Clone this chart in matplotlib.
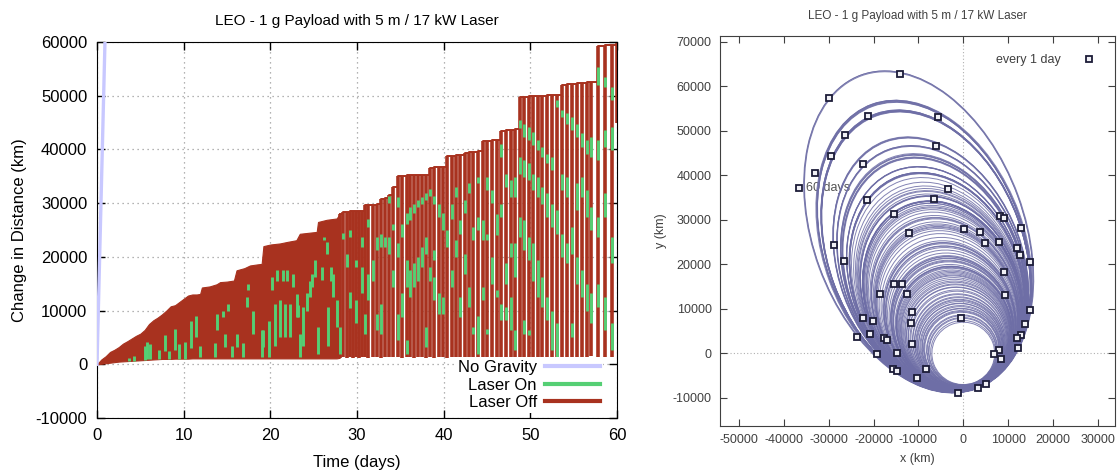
import numpy as np
import matplotlib.pyplot as plt
from matplotlib.patches import Ellipse
from matplotlib.lines import Line2D

plt.rcParams['font.family'] = ['Liberation Sans', 'DejaVu Sans']
plt.rcParams['axes.unicode_minus'] = False

TITLE = "LEO - 1 g Payload with 5 m / 17 kW Laser"

# ---- distance history ----
# early orbits are too close together to separate: keep their envelope
band_days = [0, 0.5, 1.0, 1.5, 2.0, 2.5, 3.0, 3.5, 4.0, 4.5, 5.0, 5.5, 6.0, 6.5,
             7.0, 7.5, 8.0, 8.5, 9.0, 9.5, 10.0, 10.5, 11.0, 11.5, 11.9, 12.1,
             13.0, 13.8, 14.2, 15.0, 15.8, 16.1, 17.0, 17.65, 18.5, 19.0, 19.2,
             20.0, 21.1, 22.0, 23.0, 23.4, 24.5, 25.35, 25.5, 26.5, 27.65, 28.0]
band_top = [0, 900, 1500, 2300, 2700, 3200, 3850, 4300, 4800, 5300, 5700, 6400,
            7500, 8200, 8700, 9300, 10000, 10800, 11000, 11600, 12200, 12800,
            13000, 13000, 13100, 14300, 14500, 14900, 15300, 15400, 15600, 17500,
            17900, 18400, 18600, 18700, 22000, 22300, 22500, 22800, 23100, 24300,
            24500, 24650, 26500, 26900, 27150, 28000]
band_low = [0, 100, 200, 300, 400, 500, 550, 600, 650, 700, 750, 800, 850, 900,
            950, 1000, 1000, 1000, 1050, 1050, 1050, 1050, 1100, 1100, 1100, 1100,
            1100, 1100, 1100, 1100, 1100, 1100, 1100, 1100, 1100, 1100, 1100, 1100,
            1100, 1100, 1100, 1100, 1100, 1100, 1100, 1100, 1100, 1200]

# later orbits, one dip per orbit
orbit_days = [28.0, 28.4, 28.8, 29.15, 29.5, 29.9, 30.2, 30.54, 30.92, 31.31,
              31.81, 32.27, 32.73, 33.23, 33.73, 34.2, 34.7, 35.23, 35.73, 36.12,
              36.57, 37.07, 37.54, 37.96, 38.42, 38.88, 39.46, 39.88, 40.42, 40.92,
              41.38, 41.88, 42.46, 42.96, 43.42, 44.0, 44.5, 45.05, 45.54, 46.12,
              46.61, 47.19, 47.73, 48.23, 48.81, 49.31, 49.88, 50.34, 50.85, 51.39,
              51.96, 52.54, 53.04, 53.62, 54.19, 54.77, 55.35, 55.92, 56.5, 57.0,
              57.84, 58.61, 59.39, 60.0]
orbit_top = [28000, 28400, 28400, 28500, 28500, 28500, 28500, 28600, 29600, 29700,
             29700, 29800, 30800, 31000, 31500, 33000, 35000, 35100, 35200, 35200,
             35200, 35300, 35300, 35300, 36600, 36700, 36700, 36700, 38700, 38800,
             38900, 39000, 39400, 39500, 39600, 39800, 41500, 41600, 41700, 41700,
             43500, 43600, 43700, 43800, 49700, 49800, 49900, 49900, 50000, 50000,
             50100, 50200, 50200, 52000, 52100, 52200, 52300, 52400, 52500, 52500,
             59300, 59500, 59500, 60000]
# the last sample is still on its way down when the run ends
orbit_low = [1200, 1300, 1200, 1300, 1200, 1300, 1200, 1300, 1300, 1200,
             1300, 1300, 1200, 1300, 1300, 1300, 1300, 1200, 1300, 1300,
             1200, 1300, 1300, 1200, 1300, 1200, 1300, 1300, 1200, 1300,
             1300, 1200, 1300, 1300, 1400, 1300, 1300, 1400, 1300, 1300,
             1300, 1400, 1300, 1300, 1400, 1300, 1300, 1400, 1300, 1300,
             1400, 1300, 1300, 1400, 1300, 1300, 1400, 1300, 1300, 1500,
             1300, 1400, 1300, 45000]

# stretches flown with the laser on: (day, from km, to km)
laser_on = [
    (3.7, 600, 1200), (4.3, 700, 1500), (5.5, 800, 3500), (5.8, 900, 4200),
    (6.1, 1000, 3800), (7.2, 1000, 2600), (7.8, 2500, 5500), (8.3, 1000, 2400),
    (9.0, 2700, 6600), (9.5, 1000, 3700), (10.2, 1000, 4200), (10.8, 3000, 8000),
    (11.4, 5000, 9000), (11.9, 1400, 3500), (13.6, 1400, 3900), (13.8, 6300, 9400),
    (14.58, 8800, 10000), (14.77, 3200, 5700), (15.15, 10000, 11300),
    (15.54, 1400, 3500), (16.12, 3200, 5700), (16.9, 1400, 4000),
    (17.27, 10700, 12500), (17.46, 13800, 15000), (18.04, 5700, 10000),
    (19.0, 1400, 6300), (19.19, 3200, 6300), (19.9, 1400, 8000),
    (20.15, 13800, 16300), (20.53, 3500, 11300), (20.8, 15600, 17500),
    (21.11, 5100, 11900), (21.42, 15600, 17500), (21.69, 5100, 11300),
    (21.96, 15600, 17500), (22.27, 5100, 11300), (22.65, 14400, 16900),
    (23.04, 8800, 13000), (23.23, 8800, 11000), (23.42, 1400, 5700),
    (23.81, 3500, 10700), (24.19, 10000, 13200), (24.57, 12500, 15600),
    (24.77, 14400, 16900), (25.15, 16300, 19400), (25.54, 2000, 7000),
    (25.92, 15700, 18100), (26.19, 23100, 23700), (26.5, 20600, 22800),
    (26.69, 3500, 10700), (26.96, 15600, 18100), (27.27, 12500, 16900),
    (27.65, 7000, 11900), (28.0, 2000, 7000), (28.4, 23400, 24500),
    (28.8, 18100, 20600), (29.15, 10400, 13500), (29.15, 23700, 25000),
    (29.9, 18100, 19400), (29.9, 7600, 11900), (30.54, 13200, 18100),
    (30.54, 21900, 23700), (30.92, 5700, 9400), (31.31, 11900, 16900),
    (31.31, 25600, 27100), (31.81, 15600, 19400), (32.27, 21300, 23700),
    (32.27, 6300, 9400), (32.73, 21900, 24300), (32.73, 5700, 11300),
    (33.23, 21900, 23700), (33.73, 30000, 31300), (33.73, 20600, 23700),
    (34.2, 25000, 26200), (34.2, 14400, 17500), (34.7, 29300, 31200),
    (34.7, 4500, 9400), (34.7, 20000, 22500), (35.23, 23700, 26200),
    (35.23, 8800, 13200), (35.73, 26200, 28100), (35.73, 14400, 19400),
    (35.73, 2000, 4500), (36.12, 26800, 29300), (36.12, 12500, 17500),
    (36.57, 28100, 29900), (36.57, 14400, 18800), (37.07, 29300, 30500),
    (37.07, 15600, 20000), (37.54, 29900, 31200), (37.54, 18100, 21900),
    (37.96, 30500, 31800), (37.96, 20600, 23700), (37.96, 3200, 6900),
    (38.42, 15600, 18100), (38.42, 31300, 32600), (38.88, 29900, 31400),
    (38.88, 19400, 21200), (38.88, 11900, 16300), (39.46, 27500, 29900),
    (39.46, 9400, 13200), (39.88, 25000, 28100), (39.88, 9400, 12500),
    (40.42, 21900, 25000), (40.92, 27100, 29900), (40.92, 14400, 17500),
    (41.38, 31200, 33000), (41.38, 20000, 23100), (41.88, 24300, 26800),
    (41.88, 8800, 12500), (42.46, 28100, 30500), (42.46, 16900, 20600),
    (42.96, 31800, 33700), (42.96, 10700, 14400), (43.42, 23100, 25600),
    (43.42, 5700, 6900), (44.0, 33700, 34900), (44.0, 25000, 27500),
    (44.0, 2000, 9000), (44.5, 23100, 26800), (44.5, 11900, 14400),
    (45.05, 32400, 34900), (45.05, 23100, 24300), (45.05, 5700, 6600),
    (45.54, 30000, 32400), (45.54, 15000, 20000), (46.12, 24000, 28000),
    (46.12, 12500, 13800), (46.61, 38600, 41100), (46.61, 27400, 29900),
    (46.61, 8200, 11300), (47.19, 33000, 35500), (47.19, 15000, 18800),
    (47.19, 8200, 10700), (47.73, 31200, 34300), (47.73, 20000, 22500),
    (47.73, 6300, 12500), (48.23, 31200, 34900), (48.23, 16300, 22500),
    (48.23, 2600, 6300), (48.81, 43900, 45500), (48.81, 35500, 38600),
    (48.81, 23700, 27400), (49.31, 42400, 44800), (49.31, 34900, 38000),
    (49.31, 21200, 26800), (49.31, 5700, 8200), (49.88, 41700, 44200),
    (49.88, 34300, 37400), (49.88, 19400, 23700), (49.88, 5400, 6300),
    (50.34, 40800, 43300), (50.34, 32400, 35500), (50.34, 15600, 22500),
    (50.85, 39900, 41700), (50.85, 31200, 34900), (50.85, 12500, 19400),
    (51.39, 38600, 40500), (51.39, 29900, 33000), (51.39, 10700, 16300),
    (51.96, 37400, 39200), (51.96, 27400, 31800), (51.96, 8200, 12500),
    (52.54, 36100, 38600), (52.54, 25600, 29900), (52.54, 2600, 10000),
    (53.04, 47900, 49200), (53.04, 24300, 28700), (53.04, 1400, 7600),
    (53.62, 46100, 47300), (53.62, 32400, 35500), (53.62, 20000, 24300),
    (54.19, 44800, 46700), (54.19, 31200, 34900), (54.19, 18800, 22500),
    (54.77, 43600, 46100), (54.77, 20600, 25600), (54.77, 5100, 7600),
    (55.35, 42400, 44800), (55.35, 28700, 33700), (55.35, 15000, 20000),
    (55.92, 40500, 43000), (55.92, 31200, 34900), (55.92, 12500, 17500),
    (56.5, 39200, 41700), (56.5, 27400, 32400), (56.5, 10000, 15000),
    (57.0, 38600, 42400), (57.0, 25000, 29300), (57.0, 7600, 13200),
    (57.84, 52000, 55400), (57.84, 38000, 41700), (57.84, 23700, 27400),
    (57.84, 10700, 15000), (58.61, 51700, 53500), (58.61, 40500, 43600),
    (58.61, 27400, 31800), (58.61, 6300, 12500), (59.39, 49200, 51700),
    (59.39, 39900, 44200), (59.39, 18800, 23700), (59.39, 2600, 7600),
]

no_gravity_days = [0, 0.92]
no_gravity_dist = [0, 60000]

# ---- trajectory ----
R_START = 7000    # starting orbit radius (km)
APSE_DEG = 110    # direction of apogee, degrees from +x

# extra early orbits (apogee rise / perigee rise, km) that the envelope hides
early_apogee = [400, 1100, 1700, 2500, 3100, 3600, 4400, 5100, 5900, 6600, 7200,
                8100, 8900, 9600, 10400, 11300, 11900, 12600, 13500, 14100,
                15000, 16200, 16900, 17800, 19100, 19900, 20800, 21500, 23600,
                25100, 25900, 27500, 30200, 32100, 34100]
early_perigee = [50, 150, 250, 350, 400, 450, 550, 600, 700, 750, 800,
                 850, 900, 950, 1000, 1000, 1050, 1050, 1050, 1100,
                 1100, 1100, 1100, 1100, 1100, 1100, 1100, 1100, 1100,
                 1100, 1100, 1200, 1200, 1300, 1300]

daily_x = [-14120, -29940, -21250, -5720, -26370, -29570, -22440, -6170, -33140,
           -36550, -3490, -21550, -6610, -15450, -12110, 220, 3790, 4830, 8100,
           9140, 12780, 7880, 11890, 12700, 14780, 9060, 9290, 14780, 13740,
           12850, 11960, 12260, 8020, 6910, 8400, -520, -11520, -11590, -11440,
           -14710, -19320, -28830, -26520, -15380, -13670, -18570, -12630,
           -22440, -20210, -23770, -20880, -17610, -17090, -15600, -14780,
           -8250, -10330, -1260, 3190, 4980]
daily_y = [62720, 57260, 53220, 53070, 49030, 44310, 42590, 46480, 40570, 37200,
           36900, 34360, 34660, 31290, 26950, 27920, 27250, 24700, 30840, 30460,
           28140, 24930, 23580, 22080, 20510, 18340, 13100, 9730, 6660, 4190,
           3440, 1270, 750, -70, -1270, 8010, 9360, 6810, 2100, 150, -70, 24330,
           20660, 15570, 15570, 13250, 13250, 8010, 7340, 3740, 4340, 3440, 2920,
           -3520, -3970, -3590, -5460, -8830, -7780, -6960]
last_day_x, last_day_y = -36550, 37200

RED = '#a8321f'
GREEN = '#55cf74'
LAVENDER = '#c8c8ff'
ORBIT = '#6e6ea6'

fig = plt.figure(figsize=(11.2, 4.7), dpi=100)

# ---------- left: distance vs time ----------
ax = fig.add_axes([0.0866, 0.1106, 0.4643, 0.8000])
ax.plot(no_gravity_days, no_gravity_dist, color=LAVENDER, lw=2.4, zorder=3)
ax.fill_between(band_days, band_low, band_top, color=RED, lw=0.8,
                edgecolor=RED, zorder=2)
ax.vlines(orbit_days, orbit_low, orbit_top, color=RED, lw=2.6, zorder=2)
ax.plot(orbit_days, orbit_top, color=RED, lw=1.4, drawstyle='steps-post',
        zorder=2)
on_day = [d for d, lo, hi in laser_on]
on_lo = [lo for d, lo, hi in laser_on]
on_hi = [hi for d, lo, hi in laser_on]
ax.vlines(on_day, on_lo, on_hi, color=GREEN, lw=2.1, zorder=2.5)

ax.set_xlim(0, 60)
ax.set_ylim(-10000, 60000)
ax.set_xticks(range(0, 61, 10))
ax.set_yticks(range(-10000, 60001, 10000))
ax.grid(True, color='#9a9a9a', linestyle=(0, (1, 3)), lw=0.9)
ax.set_axisbelow(True)
ax.tick_params(direction='in', top=True, right=True, length=6, width=1,
               labelsize=12, pad=7)
ax.set_xlabel('Time (days)', fontsize=12, labelpad=9)
ax.set_ylabel('Change in Distance (km)', fontsize=12, labelpad=6)
ax.set_title(TITLE, fontsize=11, pad=12)

handles = [Line2D([], [], color=LAVENDER, lw=3),
           Line2D([], [], color=GREEN, lw=3),
           Line2D([], [], color=RED, lw=3)]
leg = ax.legend(handles, ['No Gravity', 'Laser On', 'Laser Off'],
                loc='lower right', bbox_to_anchor=(0.99, -0.01),
                markerfirst=False, fontsize=12, handlelength=3.3,
                labelspacing=0.15, handletextpad=0.5, borderpad=0.2,
                framealpha=1, fancybox=False)
leg.get_frame().set_edgecolor('none')

# ---------- right: x-y trajectory ----------
bx = fig.add_axes([0.6429, 0.0936, 0.3526, 0.8304])
bx.axhline(0, color='#b0b0b0', linestyle=(0, (1, 2)), lw=0.8, zorder=0)
bx.axvline(0, color='#b0b0b0', linestyle=(0, (1, 2)), lw=0.8, zorder=0)

th = np.radians(APSE_DEG)
tops = early_apogee + band_top + orbit_top[:-1]
lows = early_perigee + band_low + orbit_low[:-1]
for top, low in zip(tops, lows):
    ra = R_START + top
    rp = R_START + low
    a = (ra + rp) / 2
    b = np.sqrt(ra * rp)
    c = a - rp
    bx.add_patch(Ellipse((c * np.cos(th), c * np.sin(th)), 2 * a, 2 * b,
                         angle=APSE_DEG, fill=False, edgecolor=ORBIT,
                         lw=0.7, alpha=0.85, zorder=2))

bx.text(last_day_x + 1500, last_day_y, '60 days', fontsize=9, color='#555555',
        va='center', ha='left', zorder=1)
bx.plot(daily_x, daily_y, linestyle='none', marker='s', markersize=4.2,
        markerfacecolor='#f0f0f5', markeredgecolor='#1c1c38',
        markeredgewidth=1.3, zorder=4, label='every 1 day')

bx.set_xlim(-54200, 33800)
bx.set_ylim(-16300, 71300)
bx.set_xticks(range(-50000, 30001, 10000))
bx.set_yticks(range(-10000, 70001, 10000))
bx.tick_params(direction='in', top=True, right=True, length=5, width=0.8,
               labelsize=9, labelcolor='#404040', color='#404040', pad=6)
for s in bx.spines.values():
    s.set_color('#404040')
bx.set_xlabel('x (km)', fontsize=9, color='#404040', labelpad=5)
bx.set_ylabel('y (km)', fontsize=9, color='#404040', labelpad=4)
bx.set_title(TITLE, fontsize=8.5, color='#404040', pad=12)
bx.legend(loc='upper right', markerfirst=False, frameon=False, fontsize=9,
          handlelength=1.2, handletextpad=1.6, borderaxespad=1.1,
          labelcolor='#404040')

fig.savefig('out.png', dpi=100)
